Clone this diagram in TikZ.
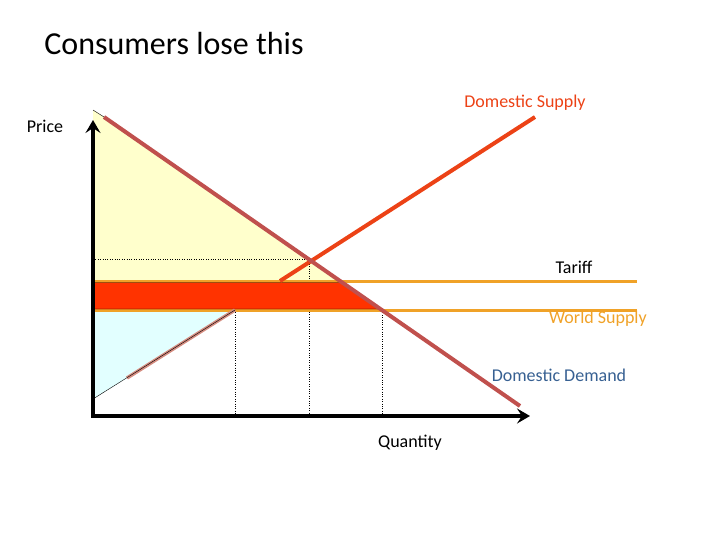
\documentclass[tikz,border=0pt]{standalone}
\usepackage{fontspec}
\setmainfont{Carlito}
\usepackage{tikz}
\usetikzlibrary{arrows.meta,calc,positioning}
\definecolor{demandred}{RGB}{192,80,77}
\definecolor{supplyred}{RGB}{236,66,22}
\definecolor{worldorange}{RGB}{240,162,40}
\definecolor{lossred}{RGB}{255,51,0}
\definecolor{csyellow}{RGB}{255,255,204}
\definecolor{psblue}{RGB}{226,255,255}
\definecolor{lowpink}{RGB}{212,140,128}
\definecolor{demandblue}{RGB}{55,96,146}

\begin{document}
\begin{tikzpicture}[x=1pt,y=-1pt,
    lbl/.style={font=\fontsize{18}{21}\selectfont},
    curve/.style={line width=4pt},
    price/.style={line width=3pt,draw=worldorange},
    guide/.style={dotted,thin}]
      \useasboundingbox (0,0) rectangle (720,540);
      % Key points
      \coordinate (O) at (93,416);
      \coordinate (ytop) at (93,120);
      \coordinate (xend) at (530,416);
      \coordinate (dA) at (104,117);
      \coordinate (dB) at (520,406);
      \coordinate (eq) at (309,259);
      % Consumer surplus
      \fill[csyellow] (93,110) -- (dA) -- (382,310) -- (93,310) -- cycle;
      \draw[thin] (93,110) -- (dA);
      % Producer surplus
      \fill[psblue] (93,310) -- (235,310) -- (93,399) -- cycle;
      % Guide lines
      \draw[guide] (93,259) -- (eq) -- (eq |- O);
      \draw[guide] (235,310) -- (235,416);
      \draw[guide] (382,310) -- (382,416);
      % Tariff and world price
      \draw[price] (93,281) -- (637,281);
      \draw[price] (93,310) -- (637,310);
      % Loss
      \draw[thin,fill=lossred] (93,282.5) -- (342,282.5) -- (380,309) -- (93,309) -- cycle;
      % Domestic supply
      \draw[line width=3.5pt,lowpink] (127,378) -- (235,310);
      \draw[thin] (93,399) -- (235,310);
      \draw[curve,supplyred] (280,281) -- (535,117);
      % Domestic demand
      \draw[curve,demandred] (dA) -- (dB);
      % Axes
      \draw[line width=4pt,-{Stealth[length=13pt,width=15pt,inset=5pt]}] (O) -- (ytop);
      \draw[line width=4pt,-{Stealth[length=13pt,width=15pt,inset=5pt]}] ($(O)+(-2,0)$) -- (xend);
      % Labels
      \node (title) at (174,44) {\fontsize{32}{36}\selectfont Consumers lose this};
      \node[lbl] (plabel) at (45,126) {Price};
      \node[lbl] (qlabel) at (410,443) {Quantity};
      \node[lbl,text=supplyred] (slabel) at (525,103) {Domestic Supply};
      \node[lbl] (tlabel) at (574,267) {Tariff};
      \node[lbl,text=worldorange] (wlabel) at (598,319) {World Supply};
      \node[lbl,text=demandblue] (dlabel) at (559,375) {Domestic Demand};
    \end{tikzpicture}
\end{document}
